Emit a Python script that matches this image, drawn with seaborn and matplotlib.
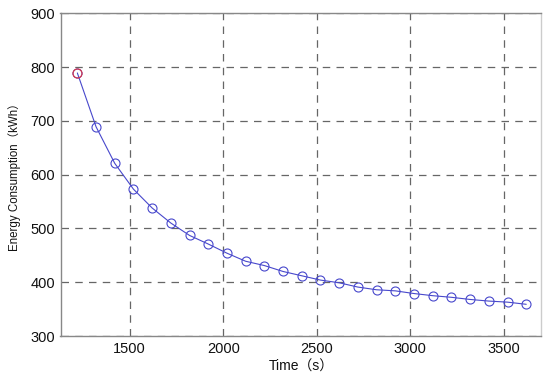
import matplotlib
matplotlib.use("Agg")
import matplotlib.pyplot as plt
import seaborn as sns
import pandas as pd

# data
time_s = [1220, 1320, 1420, 1520, 1620, 1720, 1820, 1920, 2020, 2120,
          2220, 2320, 2420, 2520, 2620, 2720, 2820, 2920, 3020, 3120,
          3220, 3320, 3420, 3520, 3620]
energy_kwh = [789, 689, 621, 573, 538, 510, 487, 471, 454, 439,
              431, 420, 412, 404, 399, 391, 386, 384, 379, 375,
              372, 368, 365, 363, 359]
x_ticks = [1500, 2000, 2500, 3000, 3500]
y_ticks = [300, 400, 500, 600, 700, 800, 900]

df = pd.DataFrame({"Time": time_s, "Energy": energy_kwh})

sns.set_style("white")
plt.rcParams["font.family"] = ["Liberation Sans", "Noto Sans CJK SC", "DejaVu Sans"]

fig = plt.figure(figsize=(5.5, 3.78), dpi=100)
ax = fig.add_axes([0.110, 0.111, 0.874, 0.854])

blue = "#4848cc"
sns.lineplot(data=df, x="Time", y="Energy", ax=ax, color=blue, lw=0.8,
             marker="o", markersize=6.5, markerfacecolor="none",
             markeredgecolor=blue, markeredgewidth=0.8)
# first point highlighted in red
ax.plot(time_s[:1], energy_kwh[:1], "o", ms=6.5, mfc="none", mec="#dd3344", mew=0.8)

ax.set_xlim(1130, 3700)
ax.set_ylim(300, 900)
ax.set_xticks(x_ticks)
ax.set_yticks(y_ticks)

ax.grid(True, color="#666666", linestyle=(0, (6, 5)), linewidth=0.9)
ax.set_axisbelow(True)

for side in ["left", "bottom", "top"]:
    ax.spines[side].set_color("#888888")
    ax.spines[side].set_linewidth(1.0)
ax.spines["right"].set_color("#cccccc")
ax.spines["right"].set_linewidth(1.0)

ax.tick_params(axis="both", length=0, pad=4, labelsize=10.5, colors="#111111")
ax.set_xlabel("Time（s）", fontsize=10, labelpad=3, color="#111111")
ax.set_ylabel("Energy Consumption（kWh）", fontsize=8.3, labelpad=7, color="#111111")

fig.savefig("out.png", dpi=100)
